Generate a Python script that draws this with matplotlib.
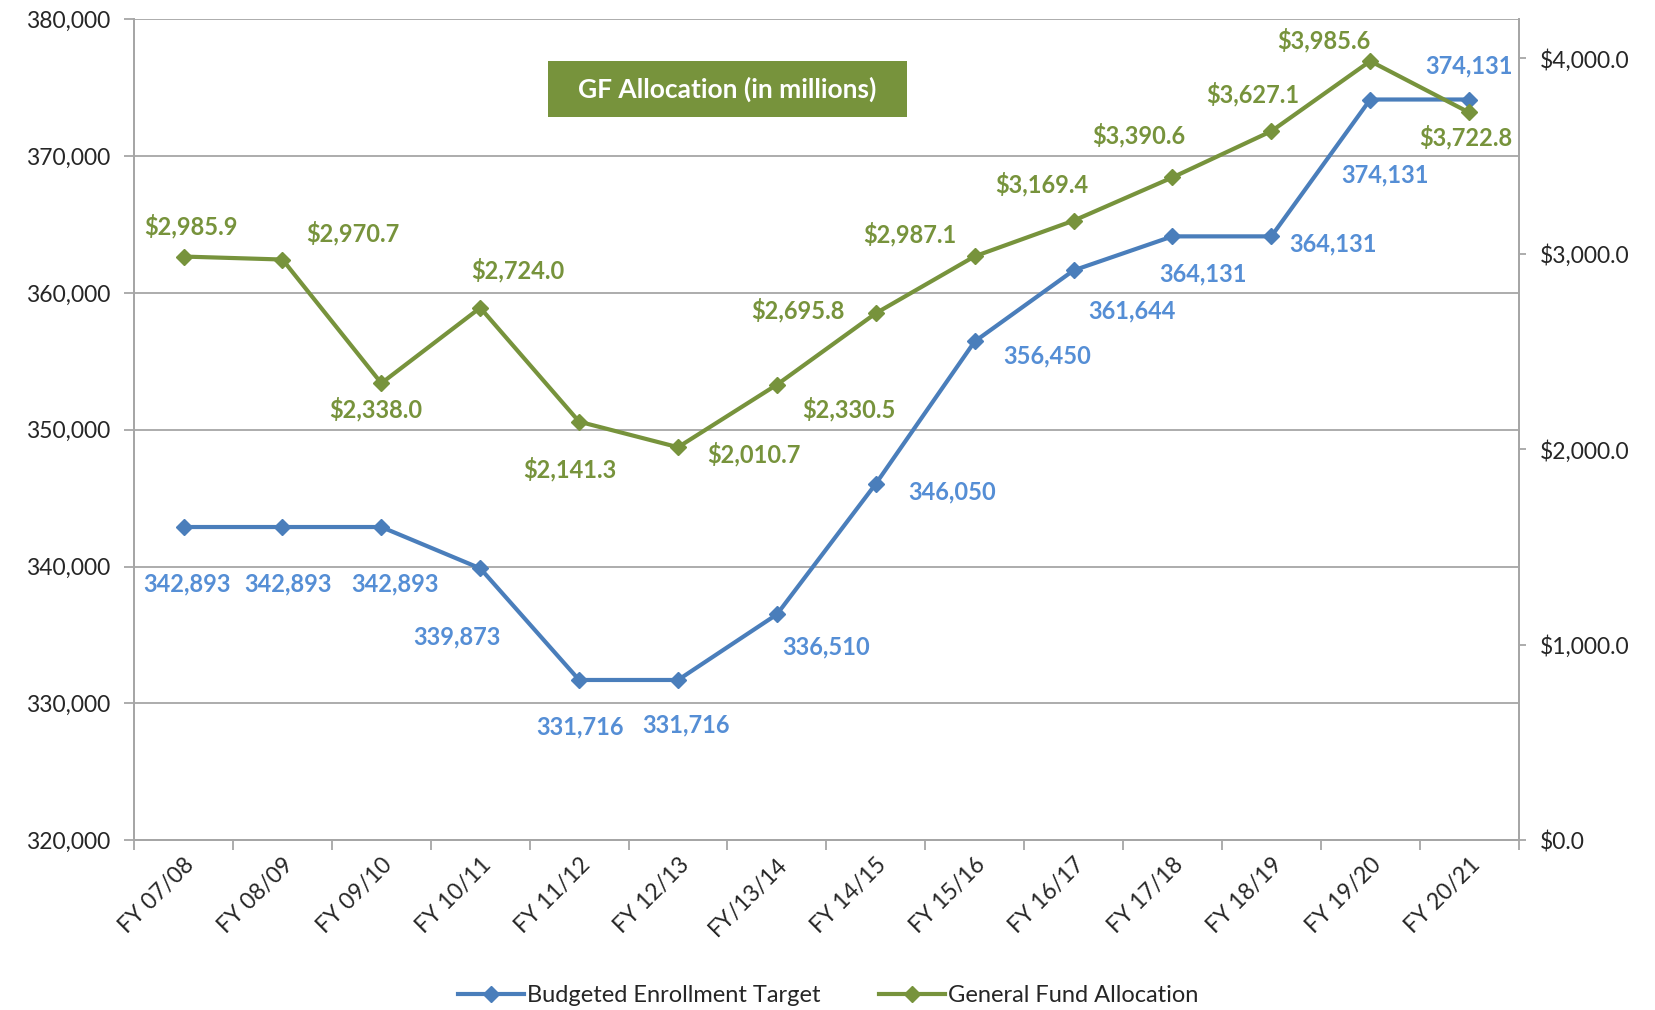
import matplotlib
matplotlib.use("Agg")
import matplotlib.pyplot as plt
from matplotlib.ticker import FuncFormatter, FixedLocator
from matplotlib.lines import Line2D
from matplotlib.patches import Rectangle

plt.rcParams['font.family'] = ['Lato', 'DejaVu Sans']

categories = ["FY 07/08", "FY 08/09", "FY 09/10", "FY 10/11", "FY 11/12", "FY 12/13",
              "FY/13/14", "FY 14/15", "FY 15/16", "FY 16/17", "FY 17/18", "FY 18/19",
              "FY 19/20", "FY 20/21"]
enrollment = [342893, 342893, 342893, 339873, 331716, 331716, 336510, 346050,
              356450, 361644, 364131, 364131, 374131, 374131]
gf_alloc = [2985.9, 2970.7, 2338.0, 2724.0, 2141.3, 2010.7, 2330.5, 2695.8,
            2987.1, 3169.4, 3390.6, 3627.1, 3985.6, 3722.8]

# label offsets (pixels)
blue_off = [(3, -54), (5, -54), (13, -54), (-22, -65), (1, -44), (8, -43), (47, -31),
            (72, -8), (69, -14), (55, -38), (29, -36), (58, -7), (14, -71), (0, 32)]
green_off = [(7, 29), (67, 25), (-5, -25), (36, 36), (-9, -45), (72, -7), (68, -23),
             (-74, 3), (-61, 21), (-30, 35), (-32, 40), (-18, 35), (-44, 20), (-3, -23)]

BLUE = "#4A7EBB"
BLUE_TXT = "#558ED5"
GREEN = "#77933C"
GRID = "#A6A6A6"
TXT = "#262626"

fig = plt.figure(figsize=(16.56, 10.10), dpi=100)
ax = fig.add_axes([0.081, 0.168, 0.836, 0.813])
ax2 = ax.twinx()

x = list(range(len(categories)))
ax.plot(x, enrollment, color=BLUE, lw=3, marker='D', ms=8, zorder=3)
ax2.plot(x, gf_alloc, color=GREEN, lw=3, marker='D', ms=8, zorder=3)

ax.set_xlim(-0.5, len(categories) - 0.5)
ax.set_ylim(320000, 380000)
ax2.set_ylim(0, 4200)

ax.set_yticks(range(320000, 380001, 10000))
ax.yaxis.set_major_formatter(FuncFormatter(lambda v, p: f"{int(v):,}"))
ax2.set_yticks(range(0, 4001, 1000))
ax2.yaxis.set_major_formatter(FuncFormatter(lambda v, p: f"${v:,.1f}"))

ax.yaxis.grid(True, color=GRID, lw=1.3)
ax.set_axisbelow(True)

ax.set_xticks(x)
ax.set_xticklabels(categories, rotation=45, ha='right', rotation_mode='anchor')
ax.tick_params(axis='x', length=0, pad=10, labelsize=16.5, labelcolor=TXT)
ax.xaxis.set_minor_locator(FixedLocator([i - 0.5 for i in range(len(categories) + 1)]))
ax.tick_params(axis='x', which='minor', length=7, color=GRID, width=1.3)
ax.tick_params(axis='y', length=7, color=GRID, width=1.3, labelsize=16.5, labelcolor=TXT, pad=10)
ax2.tick_params(axis='y', length=5, color=GRID, width=1.3, labelsize=16.5, labelcolor=TXT, pad=10)

for a in (ax, ax2):
    for s in a.spines.values():
        s.set_color(GRID)
        s.set_linewidth(1.3)
ax2.spines['top'].set_visible(False)
ax.spines['top'].set_visible(False)

for i, v in enumerate(enrollment):
    dx, dy = blue_off[i]
    ax.annotate(f"{v:,}", (i, v), xytext=(dx * 1.056, dy * 1.056), textcoords='offset pixels',
                ha='center', va='center', color=BLUE_TXT, fontsize=17, fontweight='bold', zorder=5)
for i, v in enumerate(gf_alloc):
    dx, dy = green_off[i]
    ax2.annotate(f"${v:,.1f}", (i, v), xytext=(dx * 1.056, dy * 1.056), textcoords='offset pixels',
                 ha='center', va='center', color=GREEN, fontsize=17, fontweight='bold', zorder=5)

fig.patches.append(Rectangle((0.331, 0.884), 0.2168, 0.0554, transform=fig.transFigure,
                             fc=GREEN, ec='none', zorder=4))
fig.text(0.4394, 0.9117, "GF Allocation (in millions)", ha='center', va='center', color='white',
         fontsize=19, fontweight='bold', zorder=5)

handles = [Line2D([], [], color=BLUE, lw=3, marker='D', ms=8),
           Line2D([], [], color=GREEN, lw=3, marker='D', ms=8)]
fig.legend(handles, ["Budgeted Enrollment Target", "General Fund Allocation"],
           loc='center', bbox_to_anchor=(0.5, 0.014), ncol=2, frameon=False,
           fontsize=17, handlelength=2.8, handletextpad=0.1, columnspacing=2.5,
           labelcolor=TXT)

fig.savefig("out.png", dpi=100)
